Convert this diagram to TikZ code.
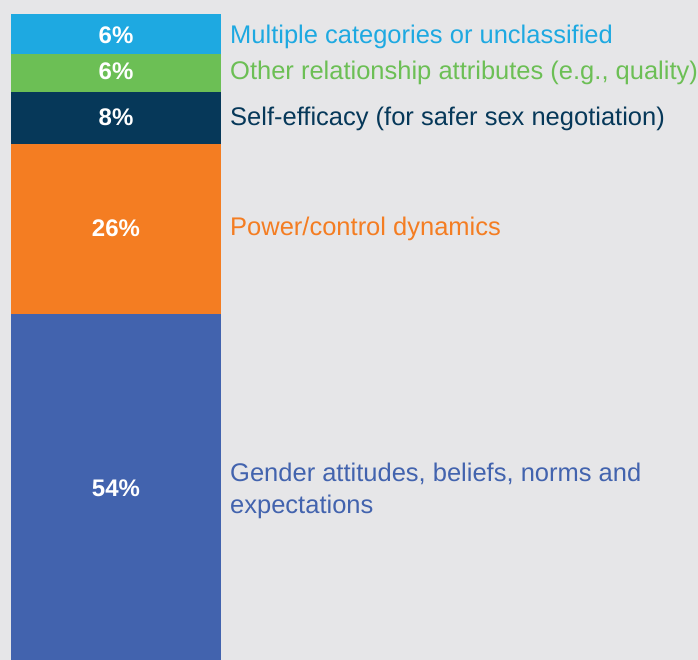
\documentclass[tikz,border=0pt]{standalone}
\usepackage{fontspec}
\setmainfont{Liberation Sans}
\definecolor{bg}{HTML}{E6E6E8}
\definecolor{cmulti}{HTML}{1EA9E1}
\definecolor{cother}{HTML}{6CBF55}
\definecolor{cself}{HTML}{063859}
\definecolor{cpower}{HTML}{F47D22}
\definecolor{cgender}{HTML}{4263AE}
\begin{document}
\begin{tikzpicture}[x=1pt,y=-1pt,
  seg/.style={fill=#1,draw=none},
  pct/.style={anchor=base,text=white,font=\fontsize{24}{28}\selectfont\bfseries,inner sep=0pt},
  lab/.style={anchor=base west,text=#1,font=\fontsize{25.5}{32}\selectfont,inner sep=0pt,align=left}]
\fill[bg] (0,0) rectangle (698,660);
\useasboundingbox (0,0) rectangle (698,660);
\fill[seg=cmulti] (11,14) rectangle (221,54);
\fill[seg=cother] (11,54) rectangle (221,92);
\fill[seg=cself] (11,92) rectangle (221,144);
\fill[seg=cpower] (11,144) rectangle (221,314);
\fill[seg=cgender] (11,314) rectangle (221,660);
\node[pct] (p1) at (116,43.3) {6\%};
\node[pct] (p2) at (116,80) {6\%};
\node[pct] (p3) at (116,126) {8\%};
\node[pct] (p4) at (116,236.7) {26\%};
\node[pct] (p5) at (116,496.7) {54\%};
\node[lab=cmulti] (l1) at (230,43.3) {Multiple categories or unclassified};
\node[lab=cother] (l2) at (230,80) {Other relationship attributes (e.g., quality)};
\node[lab=cself] (l3) at (230,126) {Self-efficacy (for safer sex negotiation)};
\node[lab=cpower] (l4) at (230,236) {Power/control dynamics};
\node[lab=cgender] (l5) at (230,481.7) {Gender attitudes, beliefs, norms and};
\node[lab=cgender] (l6) at (230,513.5) {expectations};
\end{tikzpicture}
\end{document}
